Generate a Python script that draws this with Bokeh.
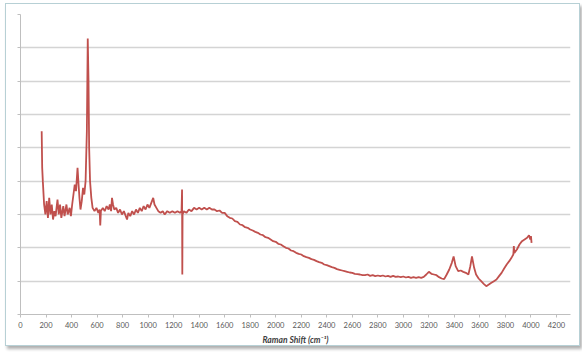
from bokeh.plotting import figure
from bokeh.models import Range1d, FixedTicker, SingleIntervalTicker, CustomJSTickFormatter
from bokeh.embed import file_html
from bokeh.resources import INLINE

# Raman shift (cm^-1) and intensity (arbitrary units)
shift = [166, 170, 175, 185, 195, 205, 215, 225, 235, 245, 255, 265, 275, 290, 300, 310, 320, 335, 345,
         360, 370, 385, 395, 405, 415, 425, 435, 447, 455, 462, 470, 480, 490, 500, 510, 520, 527, 533,
         538, 545, 555, 565, 580, 595, 610, 620, 625, 630, 645, 660, 675, 690, 700, 710, 717, 725, 735,
         750, 765, 780, 795, 810, 825, 835, 845, 860, 875, 890, 905, 920, 935, 950, 965, 980, 995, 1010,
         1025, 1040, 1050, 1065, 1080, 1098, 1115, 1130, 1150, 1170, 1190, 1210, 1230, 1250, 1262, 1266,
         1268, 1270, 1280, 1300, 1320, 1340, 1360, 1380, 1400, 1420, 1440, 1460, 1480, 1500, 1520, 1540,
         1560, 1580, 1600, 1620, 1640, 1660, 1680, 1700, 1720, 1740, 1760, 1780, 1800, 1820, 1840, 1860,
         1880, 1900, 1920, 1940, 1960, 1980, 2000, 2020, 2040, 2060, 2080, 2100, 2120, 2140, 2160, 2180,
         2200, 2220, 2240, 2260, 2280, 2300, 2320, 2340, 2360, 2380, 2400, 2420, 2440, 2460, 2480, 2500,
         2520, 2540, 2560, 2580, 2600, 2620, 2640, 2660, 2680, 2700, 2720, 2740, 2760, 2780, 2800, 2820,
         2840, 2860, 2880, 2900, 2920, 2940, 2960, 2980, 3000, 3020, 3040, 3060, 3080, 3100, 3120, 3140,
         3160, 3180, 3200, 3220, 3240, 3260, 3280, 3300, 3320, 3340, 3360, 3380, 3394, 3410, 3430, 3450,
         3470, 3490, 3510, 3525, 3538, 3555, 3570, 3590, 3610, 3630, 3650, 3670, 3690, 3710, 3730, 3750,
         3770, 3790, 3810, 3830, 3850, 3862, 3866, 3870, 3890, 3910, 3930, 3950, 3970, 3985, 3995, 4000,
         4005]
intensity = [5.5, 4.4, 4.0, 3.3, 3.0, 3.4, 2.9, 3.5, 3.0, 3.3, 2.85, 3.1, 2.95, 3.45, 3.0, 3.3, 2.9, 3.25,
             2.95, 3.3, 3.0, 3.2, 2.95, 3.3, 3.6, 3.9, 3.7, 4.4, 3.9, 3.5, 3.15, 3.4, 3.8, 3.6, 4.0, 5.5,
             8.28, 7.0, 5.0, 4.0, 3.5, 3.2, 3.1, 3.2, 3.05, 3.15, 2.67, 3.1, 3.2, 3.1, 3.25, 3.15, 3.3,
             3.1, 3.5, 3.3, 3.15, 3.2, 3.05, 3.15, 3.0, 3.1, 2.95, 2.85, 3.05, 2.95, 3.1, 3.0, 3.15, 3.05,
             3.2, 3.1, 3.25, 3.15, 3.3, 3.2, 3.35, 3.5, 3.3, 3.2, 3.1, 3.05, 3.1, 3.0, 3.1, 3.05, 3.1,
             3.05, 3.1, 3.05, 3.1, 3.75, 1.2, 3.0, 3.1, 3.05, 3.15, 3.1, 3.2, 3.15, 3.2, 3.15, 3.2, 3.15,
             3.2, 3.15, 3.15, 3.1, 3.12, 3.05, 3.05, 2.95, 2.9, 2.88, 2.8, 2.78, 2.7, 2.68, 2.62, 2.6,
             2.55, 2.52, 2.48, 2.45, 2.4, 2.38, 2.32, 2.3, 2.25, 2.2, 2.18, 2.12, 2.1, 2.05, 2.0, 1.98,
             1.92, 1.9, 1.85, 1.82, 1.8, 1.75, 1.72, 1.7, 1.66, 1.64, 1.6, 1.57, 1.55, 1.5, 1.48, 1.45,
             1.42, 1.4, 1.36, 1.34, 1.32, 1.3, 1.28, 1.26, 1.25, 1.22, 1.21, 1.2, 1.18, 1.18, 1.2, 1.16,
             1.18, 1.15, 1.17, 1.15, 1.17, 1.14, 1.16, 1.13, 1.16, 1.13, 1.14, 1.12, 1.14, 1.11, 1.13,
             1.1, 1.12, 1.1, 1.12, 1.1, 1.13, 1.2, 1.28, 1.22, 1.2, 1.18, 1.12, 1.08, 1.06, 1.2, 1.35,
             1.55, 1.74, 1.45, 1.3, 1.32, 1.28, 1.25, 1.2, 1.45, 1.74, 1.4, 1.2, 1.08, 1.0, 0.92, 0.85,
             0.9, 0.95, 1.0, 1.05, 1.15, 1.25, 1.38, 1.5, 1.6, 1.72, 1.8, 2.05, 1.85, 1.95, 2.1, 2.2,
             2.25, 2.3, 2.38, 2.25, 2.35, 2.15]

x_ticks = list(range(0, 4201, 200))

p = figure(width=575, height=343, output_backend="svg", toolbar_location=None,
           x_range=Range1d(0, 4310), y_range=Range1d(0, 9),
           min_border_left=14, min_border_right=11, min_border_top=10, min_border_bottom=32)
p.styles = {"margin-left": "5px", "margin-top": "3px",
            "border": "1px solid #B7D0D5", "box-shadow": "2px 3px 3px #B0B0B0"}
p.background_fill_color = "white"
p.border_fill_color = "white"
p.outline_line_color = None

p.line(shift, intensity, line_color="#C0504D", line_width=1.8)

p.xaxis.ticker = FixedTicker(ticks=x_ticks)
p.xaxis.axis_line_color = "#BFBFBF"
p.xaxis.major_tick_line_color = "#BFBFBF"
p.xaxis.major_tick_out = 3
p.xaxis.major_tick_in = 0
p.xaxis.minor_tick_line_color = None
p.xaxis.major_label_text_font = "Lato"
p.xaxis.major_label_text_font_size = "7.5px"
p.xaxis.major_label_text_color = "#595959"
p.xaxis.major_label_standoff = 4
p.xaxis.axis_label = "Raman Shift (cm\u207b\u00b9)"
p.xaxis.axis_label_text_font = "Lato"
p.xaxis.axis_label_text_font_size = "8.5px"
p.xaxis.axis_label_text_font_style = "bold italic"
p.xaxis.axis_label_text_color = "#404040"
p.xaxis.axis_label_standoff = 4

p.yaxis.ticker = SingleIntervalTicker(interval=1)
p.yaxis.formatter = CustomJSTickFormatter(code="return ''")
p.yaxis.axis_line_color = "#BFBFBF"
p.yaxis.major_tick_line_color = "#BFBFBF"
p.yaxis.major_tick_out = 3
p.yaxis.major_tick_in = 0
p.yaxis.minor_tick_line_color = None
p.yaxis.major_label_standoff = 0

p.xgrid.grid_line_color = None
p.ygrid.grid_line_color = "#D4D4D4"
p.ygrid.grid_line_width = 1.5

open("out.html", "w").write(file_html(p, INLINE))
